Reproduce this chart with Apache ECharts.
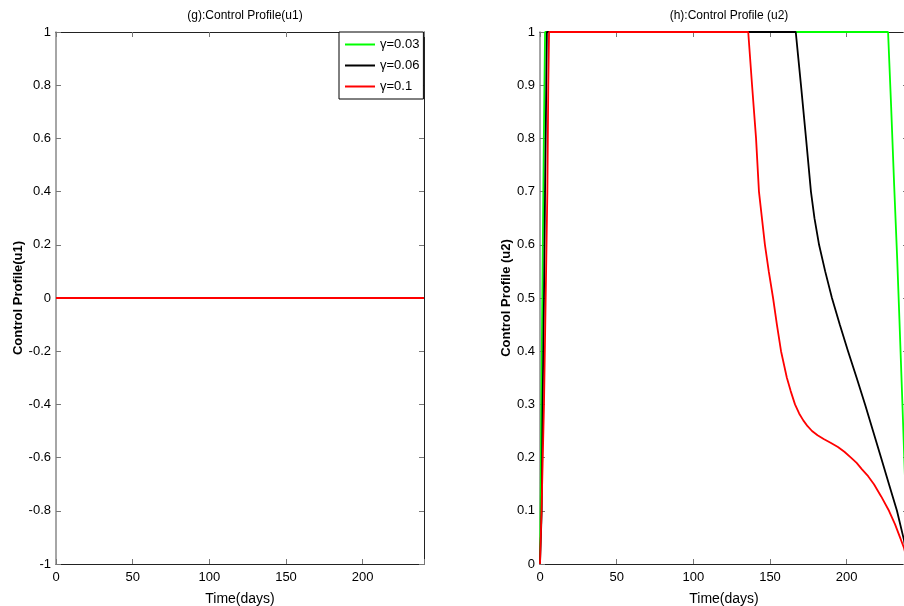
<!DOCTYPE html>
<html><head><meta charset="utf-8">
<script src="https://cdn.jsdelivr.net/npm/echarts@6/dist/echarts.min.js"></script>
<style>html,body{margin:0;padding:0;background:#fff}#c{width:904px;height:606px}</style>
</head><body><div id="c"></div>
<script>
// ---- data ----
const seriesNames = ['γ=0.03', 'γ=0.06', 'γ=0.1'];
const seriesColors = ['#00ff00', '#000000', '#ff0000'];
// (g) u1: all zero
const u1Time = [0, 240];
const u1Val = [0, 0];
// (h) u2
const u2GreenTime = [0, 0.5, 1, 1.5, 2, 2.5, 3.3, 227, 229, 231, 233, 234.4, 236, 237.4, 240];
const u2GreenVal  = [0, 0.15, 0.35, 0.5, 0.65, 0.8, 1, 1, 0.86, 0.71, 0.57, 0.46, 0.33, 0.214, 0.0];
const u2BlackTime = [0, 1.1, 1.7, 2.6, 3.3, 4.1, 4.5, 166.8, 168.5, 170.2, 173.5, 176.7, 179, 182, 186, 190.4, 195.5, 200.9, 206.5, 212, 217.2, 222.4, 227.6, 232.8, 237.4, 240];
const u2BlackVal  = [0, 0.1, 0.3, 0.5, 0.7, 0.9, 1, 1, 0.95, 0.9, 0.8, 0.7, 0.65, 0.6, 0.55, 0.5, 0.45, 0.4, 0.35, 0.3, 0.25, 0.2, 0.15, 0.1, 0.045, 0.0];
const u2RedTime = [0, 1, 2.6, 3.7, 4.8, 5.4, 5.9, 135.8, 138.3, 140.9, 142.8, 146.7, 149.2, 152, 154.5, 157.2, 161, 163.5, 166.3, 169, 171.7, 174.5, 177.4, 181, 185, 189.5, 194.3, 198.5, 202.8, 206.5, 210, 214, 217.8, 222.5, 227.6, 231.5, 234.8, 237.4, 240];
const u2RedVal  = [0, 0.1, 0.3, 0.5, 0.7, 0.9, 1, 1, 0.9, 0.8, 0.7, 0.6, 0.55, 0.5, 0.45, 0.4, 0.35, 0.325, 0.3, 0.283, 0.27, 0.259, 0.25, 0.242, 0.235, 0.228, 0.22, 0.211, 0.2, 0.19, 0.178, 0.165, 0.15, 0.127, 0.1, 0.075, 0.05, 0.03, 0.0];
const xTicksMax = 240;

const pair = (t, v) => t.map((x, i) => [x, v[i]]);

const chart = echarts.init(document.getElementById('c'), null, {renderer: 'canvas'});
const font = 'Liberation Sans, Arial, sans-serif';
const narrow = 'Liberation Sans Narrow, Arial Narrow, Liberation Sans, sans-serif';

function xAxes(gi) {
  return [{
    type: 'value', gridIndex: gi, min: 0, max: xTicksMax, interval: 50,
    name: 'Time(days)', nameLocation: 'middle', nameGap: 28,
    nameTextStyle: {fontFamily: font, fontSize: 14, color: '#000'},
    axisLine: {show: true, onZero: false, lineStyle: {color: '#222', width: 1}},
    axisTick: {show: true, inside: true, length: 5, lineStyle: {color: '#777'}},
    axisLabel: {fontFamily: font, fontSize: 13, color: '#000', margin: 7,
      formatter: v => (v === 240 ? '' : String(v))},
    splitLine: {show: false}
  }, {
    type: 'value', gridIndex: gi, position: 'top', min: 0, max: xTicksMax, interval: 50,
    axisLine: {show: true, onZero: false, lineStyle: {color: '#222', width: 1}},
    axisTick: {show: true, inside: true, length: 5, lineStyle: {color: '#777'}},
    axisLabel: {show: false}, splitLine: {show: false}
  }];
}
function yAxes(gi, min, max, interval, name, gap) {
  return [{
    type: 'value', gridIndex: gi, min, max, interval,
    name, nameLocation: 'middle', nameGap: gap,
    nameTextStyle: {fontFamily: font, fontSize: 13, fontWeight: 'bold', color: '#000'},
    axisLine: {show: true, onZero: false, lineStyle: {color: '#888', width: 1.5}},
    axisTick: {show: true, inside: true, length: 5, lineStyle: {color: '#777'}},
    axisLabel: {fontFamily: font, fontSize: 13, color: '#000', margin: 5},
    splitLine: {show: false}
  }, {
    type: 'value', gridIndex: gi, position: 'right', min, max, interval,
    axisLine: {show: true, onZero: false, lineStyle: {color: '#222', width: 1}},
    axisTick: {show: true, inside: true, length: 5, lineStyle: {color: '#777'}},
    axisLabel: {show: false}, splitLine: {show: false}
  }];
}
function line(name, color, data, xi, yi) {
  return {type: 'line', name, data, xAxisIndex: xi, yAxisIndex: yi, symbol: 'none',
    smooth: false,
    lineStyle: {color, width: 1.8}, itemStyle: {color}, animation: false, z: 3};
}

chart.setOption({
  backgroundColor: '#fff',
  animation: false,
  title: [
    {text: '(g):Control Profile(u1)', left: 240, top: 5, textAlign: 'center',
      textStyle: {fontFamily: narrow, fontSize: 12, fontWeight: 'normal', color: '#000'}},
    {text: '(h):Control Profile (u2)', left: 724, top: 5, textAlign: 'center',
      textStyle: {fontFamily: narrow, fontSize: 12, fontWeight: 'normal', color: '#000'}}
  ],
  legend: {
    data: seriesNames.map(n => ({name: n, icon: 'rect'})),
    orient: 'vertical', left: 339, top: 32,
    backgroundColor: '#fff', borderColor: '#000', borderWidth: 1, borderRadius: 0,
    padding: [6, 4, 6, 6], itemGap: 8, itemWidth: 30, itemHeight: 2,
    textStyle: {fontFamily: font, fontSize: 13, color: '#000'},
    selectedMode: false
  },
  grid: [
    {left: 56, top: 32, width: 368, height: 532, outerBoundsMode: 'none'},
    {left: 540, top: 32, width: 368, height: 532, outerBoundsMode: 'none'}
  ],
  xAxis: [...xAxes(0), ...xAxes(1)],
  yAxis: [...yAxes(0, -1, 1, 0.2, 'Control Profile(u1)', 30), ...yAxes(1, 0, 1, 0.1, 'Control Profile (u2)', 25)],
  series: [
    line(seriesNames[0], seriesColors[0], pair(u1Time, u1Val), 0, 0),
    line(seriesNames[1], seriesColors[1], pair(u1Time, u1Val), 0, 0),
    line(seriesNames[2], seriesColors[2], pair(u1Time, u1Val), 0, 0),
    line(seriesNames[0], seriesColors[0], pair(u2GreenTime, u2GreenVal), 2, 2),
    line(seriesNames[1], seriesColors[1], pair(u2BlackTime, u2BlackVal), 2, 2),
    line(seriesNames[2], seriesColors[2], pair(u2RedTime, u2RedVal), 2, 2)
  ]
});
</script></body></html>
